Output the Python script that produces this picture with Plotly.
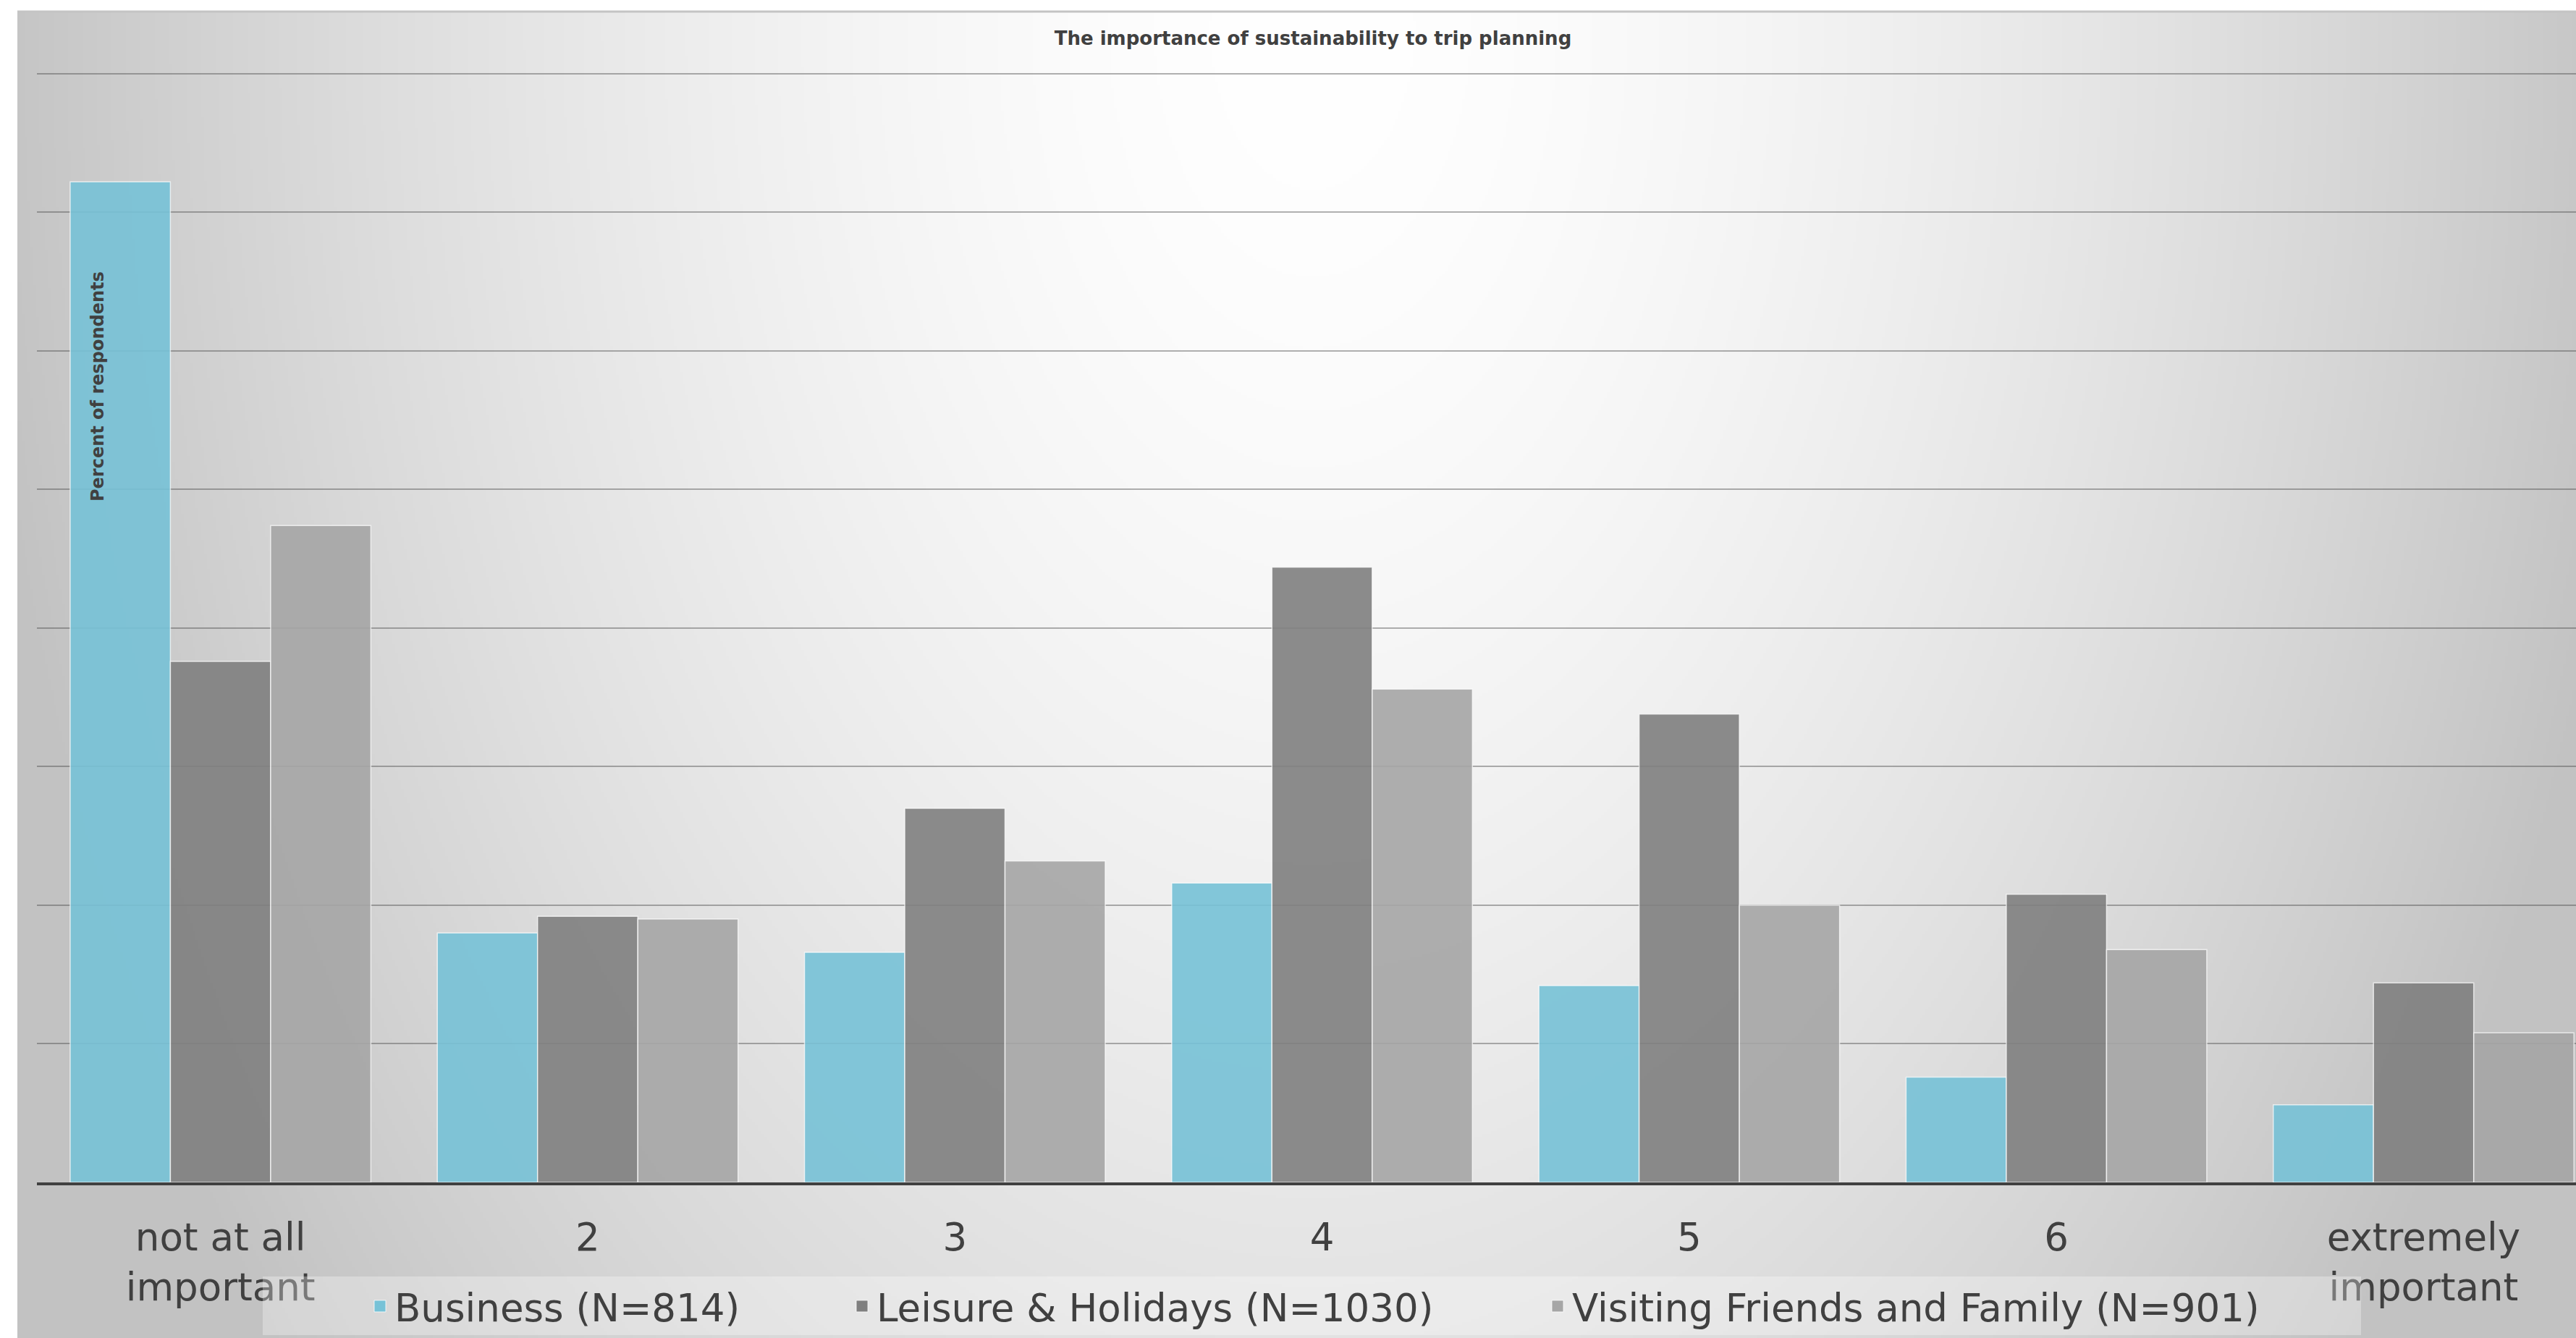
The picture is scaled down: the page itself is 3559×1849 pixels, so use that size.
import base64
import struct
import zlib

import numpy as np
import plotly.graph_objects as go

# ---------------- data ----------------
categories = ["not at all<br>important", "2", "3", "4", "5", "6", "extremely<br>important"]
series_names = ["Business (N=814)", "Leisure & Holidays (N=1030)", "Visiting Friends and Family (N=901)"]
business = [361, 90, 83, 108, 71, 38, 28]
leisure = [188, 96, 135, 222, 169, 104, 72]
visiting = [237, 95, 116, 178, 100, 84, 54]
series_values = [business, leisure, visiting]
series_colors = ["#77c2d7", "#808080", "#a6a6a6"]

# ---------------- geometry ----------------
W, H = 3559, 1849
ML, MR, MT, MB = 51, 0, 98, 215
PW = W - ML - MR
PH = H - MT - MB


def px_x(p):
    return (p - ML) / PW


def px_y(p):
    return (H - MB - p) / PH


# ---------------- background gradient image ----------------
def png_gray(arr):
    h, w = arr.shape
    raw = b"".join(b"\x00" + arr[i].tobytes() for i in range(h))

    def chunk(t, d):
        c = struct.pack(">I", len(d)) + t + d
        return c + struct.pack(">I", zlib.crc32(t + d) & 0xFFFFFFFF)

    return (b"\x89PNG\r\n\x1a\n"
            + chunk(b"IHDR", struct.pack(">IIBBBBB", w, h, 8, 0, 0, 0, 0))
            + chunk(b"IDAT", zlib.compress(raw, 9))
            + chunk(b"IEND", b""))


bx0, by0 = 24, 15
bw, bh = W - bx0, H - by0
sc = 4
gw, gh = bw // sc, bh // sc
xs = (np.arange(gw) * sc + bx0)[None, :]
ys = (np.arange(gh) * sc + by0)[:, None]
r = np.sqrt(((xs - 1810) / 1800.0) ** 2 + ((ys - 40) / 2800.0) ** 2)
val = 255 - 58 * r ** 1.6
val = np.clip(val, 194, 255).astype(np.uint8)
bg_uri = "data:image/png;base64," + base64.b64encode(png_gray(val)).decode()

# ---------------- figure ----------------
fig = go.Figure()
legend_ids = ["legend", "legend2", "legend3"]
for name, vals, col in zip(series_names, series_values, series_colors):
    fig.add_trace(go.Bar(
        x=categories, y=vals, name=name, showlegend=False,
        marker=dict(color=col, opacity=0.9,
                    line=dict(color="rgba(255,255,255,0.75)", width=1.5)),
    ))
for name, col, lg in zip(series_names, series_colors, legend_ids):
    fig.add_trace(go.Scatter(
        x=[None], y=[None], mode="markers", name=name, legend=lg,
        marker=dict(symbol="square", size=28, color=col,
                    line=dict(color="rgba(255,255,255,0.8)", width=1)),
    ))

font_family = "DejaVu Sans"
text_col = "#404040"

legend_common = dict(
    orientation="h", xanchor="left", yanchor="middle",
    bgcolor="rgba(0,0,0,0)", itemsizing="trace",
    font=dict(family=font_family, size=53, color=text_col),
)

fig.update_layout(
    width=W, height=H,
    margin=dict(l=ML, r=MR, t=MT, b=MB, pad=0),
    paper_bgcolor="white",
    plot_bgcolor="rgba(0,0,0,0)",
    barmode="group", bargap=0.181, bargroupgap=0,
    title=dict(text="<b>The importance of sustainability to trip planning</b>",
               x=px_x(1814), xref="paper", xanchor="center",
               y=1 - 53 / H, yref="container", yanchor="middle",
               font=dict(family=font_family, size=26, color=text_col)),
    xaxis=dict(range=[-0.5, -0.5 + PW / 507.3], showgrid=False,
               showline=True, linecolor=text_col, linewidth=4,
               ticks="", tickfont=dict(family=font_family, size=53, color=text_col),
               ticklabelstandoff=26, zeroline=False),
    yaxis=dict(range=[0, 401], tickvals=[0, 50, 100, 150, 200, 250, 300, 350, 400],
               showgrid=True, gridcolor="rgba(70,70,70,0.42)", gridwidth=2,
               showticklabels=False, ticks="", zeroline=False, showline=False),
    legend=dict(x=px_x(505), y=px_y(1805), **legend_common),
    legend2=dict(x=px_x(1171), y=px_y(1805), **legend_common),
    legend3=dict(x=px_x(2132), y=px_y(1805), **legend_common),
    images=[dict(source=bg_uri, xref="paper", yref="paper",
                 x=px_x(bx0), y=px_y(by0), sizex=bw / PW, sizey=bh / PH,
                 xanchor="left", yanchor="top", sizing="stretch", layer="below")],
    shapes=[
        dict(type="rect", xref="paper", yref="paper",
             x0=px_x(363), x1=px_x(3262), y0=px_y(1845), y1=px_y(1764),
             fillcolor="rgba(255,255,255,0.3)", line=dict(width=0), layer="above"),
        dict(type="line", xref="paper", yref="paper",
             x0=px_x(bx0), x1=px_x(W), y0=px_y(16), y1=px_y(16),
             line=dict(color="#c4c4c4", width=3), layer="above"),
    ],
    annotations=[dict(text="<b>Percent of respondents</b>", textangle=-90,
                      x=px_x(135), y=px_y(534), xref="paper", yref="paper",
                      showarrow=False, xanchor="center", yanchor="middle",
                      font=dict(family=font_family, size=24, color=text_col))],
)

fig.write_html("out.html")
